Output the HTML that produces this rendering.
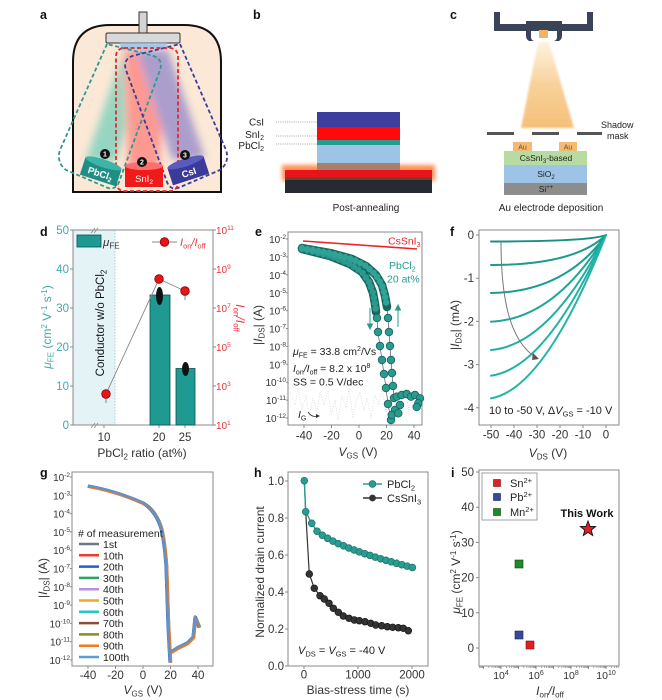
<!DOCTYPE html>
<html><head><meta charset="utf-8">
<style>
html,body{margin:0;padding:0;background:#fff;}
svg{display:block;font-family:"Liberation Sans",Arial,sans-serif;}
</style></head>
<body>
<svg width="662" height="700" viewBox="0 0 662 700" xmlns="http://www.w3.org/2000/svg">
<defs>
<filter id="b4" x="-50%" y="-50%" width="200%" height="200%"><feGaussianBlur stdDeviation="4"/></filter>
<filter id="b2" x="-50%" y="-50%" width="200%" height="200%"><feGaussianBlur stdDeviation="2"/></filter>
<filter id="b1" x="-50%" y="-50%" width="200%" height="200%"><feGaussianBlur stdDeviation="1"/></filter>
<linearGradient id="cone" x1="0" y1="0" x2="0" y2="1">
<stop offset="0" stop-color="#fff3e0"/><stop offset="0.5" stop-color="#f8d19a"/><stop offset="1" stop-color="#f4bf78"/>
</linearGradient>
<path id="gc" fill="none" d="M88,486 C105,489 125,495 143,503 C152,508 158,518 161,528 C164,540 165,552 166,565 L168,625 L170,662 M170.5,652 L177,648 L187,643 L193,637 L195,617 L197,622 L199,627"/>
</defs>

<!-- ============ PANEL LABELS ============ -->
<g font-weight="bold" font-size="12.5" fill="#111">
<text x="40" y="19">a</text><text x="253" y="19">b</text><text x="450" y="19">c</text>
<text x="40" y="236">d</text><text x="255" y="236">e</text><text x="450" y="236">f</text>
<text x="40" y="477">g</text><text x="254" y="477">h</text><text x="451" y="477">i</text>
</g>

<!-- ============ PANEL A ============ -->
<path d="M73,192 L73,62 Q73,25 110,25 L184,25 Q221,25 221,62 L221,192 Z" fill="#fbe8d6" stroke="#111" stroke-width="2"/>
<g filter="url(#b4)" opacity="0.55">
<polygon points="86,160 116,162 150,50 124,50" fill="#45c6b0"/>
<polygon points="128,168 160,168 164,50 124,50" fill="#ff5a5a"/>
<polygon points="172,160 205,158 168,50 136,50" fill="#6a64c4"/>
</g>
<rect x="139" y="12" width="8" height="22" fill="#d4d4d4" stroke="#333" stroke-width="1"/>
<rect x="106" y="33" width="74" height="10" rx="1.5" fill="#d9d9d9" stroke="#333" stroke-width="1"/>
<rect x="120" y="43" width="47" height="7" fill="#a6c6ea" filter="url(#b1)"/>
<g fill="none" stroke-width="1.8" stroke-dasharray="4 2.5">
<path d="M107,44 L60,150 Q56,162 66,170 L108,188 Q116,190 119,182 L160,70 Q164,58 150,55 Z" stroke="#2e9a8e"/>
<path d="M180,44 L226,150 Q230,162 220,170 L178,188 Q170,190 167,182 L126,70 Q122,58 136,55 Z" stroke="#3c3c9a"/>
<rect x="116" y="48" width="62" height="143" rx="8" stroke="#e8262a"/>
</g>
<g transform="translate(101,171) rotate(18)">
<rect x="-19" y="-8" width="38" height="18" fill="#1f8f86"/>
<ellipse cx="0" cy="-8" rx="19" ry="4" fill="#3cb4a7"/>
<text x="0" y="6" text-anchor="middle" font-size="9.5" font-weight="bold" fill="#fff">PbCl<tspan dy="2" font-size="6.5">2</tspan></text>
</g>
<g transform="translate(144,176)">
<rect x="-19" y="-10" width="38" height="21" fill="#f01a1a"/>
<ellipse cx="0" cy="-10" rx="19" ry="4" fill="#ff6e6e"/>
<text x="0" y="6" text-anchor="middle" font-size="9.5" fill="#fff">SnI<tspan dy="2" font-size="6.5">2</tspan></text>
</g>
<g transform="translate(188,170) rotate(-18)">
<rect x="-19" y="-8" width="38" height="18" fill="#3a3a98"/>
<ellipse cx="0" cy="-8" rx="19" ry="4" fill="#5a5abf"/>
<text x="0" y="6" text-anchor="middle" font-size="9.5" font-weight="bold" fill="#fff">CsI</text>
</g>
<g font-size="7" font-weight="bold" fill="#fff" text-anchor="middle">
<circle cx="105" cy="154" r="5" fill="#111"/><text x="105" y="156.5">1</text>
<circle cx="142" cy="162" r="5" fill="#111"/><text x="142" y="164.5">2</text>
<circle cx="185" cy="155" r="5" fill="#111"/><text x="185" y="157.5">3</text>
</g>

<!-- ============ PANEL B ============ -->
<rect x="282" y="165" width="153" height="16" fill="#ff7a35" filter="url(#b2)" opacity="0.85"/>
<rect x="285" y="170" width="147" height="7" fill="#e8141b"/>
<rect x="285" y="177" width="147" height="3" fill="#7a3b2b"/>
<rect x="285" y="180" width="147" height="13" fill="#262b33"/>
<rect x="317" y="112" width="83" height="15" fill="#3d3d9e"/>
<rect x="317" y="127" width="83" height="13" fill="#ff0a0a"/>
<rect x="317" y="140" width="83" height="5" fill="#2a9a8f"/>
<rect x="317" y="145" width="83" height="18" fill="#9dc3e6"/>
<rect x="317" y="163" width="83" height="7" fill="#a87f6a"/>
<g stroke="#888" stroke-width="0.8" stroke-dasharray="1 1.2">
<line x1="276" y1="122" x2="317" y2="122"/><line x1="276" y1="136" x2="317" y2="136"/><line x1="276" y1="144" x2="317" y2="144"/>
</g>
<g font-size="10" fill="#222" text-anchor="end">
<text x="264" y="125.5">CsI</text>
<text x="264" y="138">SnI<tspan dy="2" font-size="7">2</tspan></text>
<text x="264" y="149">PbCl<tspan dy="2" font-size="7">2</tspan></text>
</g>
<text x="366" y="211" font-size="10" text-anchor="middle" fill="#222">Post-annealing</text>

<!-- ============ PANEL C ============ -->
<g fill="#3b4358">
<rect x="494" y="12" width="6" height="19"/>
<rect x="587" y="12" width="6" height="19"/>
<rect x="494" y="24" width="99" height="7"/>
<rect x="526" y="21" width="36" height="6"/>
<path d="M526,27 h5 v10 q0,3 3,4 h-5 q-3,-2 -3,-5 z"/>
<path d="M562,27 h-5 v10 q0,3 -3,4 h5 q3,-2 3,-5 z"/>
</g>
<polygon points="538,42 549,42 574,128 521,128" fill="url(#cone)" filter="url(#b1)"/>
<rect x="539" y="30" width="9" height="8" fill="#f2b463"/>
<g fill="#555">
<rect x="487" y="132" width="27" height="3"/><rect x="532" y="132" width="27" height="3"/><rect x="577" y="132" width="25" height="3"/>
</g>
<text x="601" y="128" font-size="9" fill="#222">Shadow</text>
<text x="607" y="139" font-size="9" fill="#222">mask</text>
<rect x="513" y="142" width="19" height="9" fill="#f5b971"/>
<rect x="559" y="142" width="18" height="9" fill="#f5b971"/>
<rect x="504" y="151" width="83" height="14" fill="#b7dca2"/>
<rect x="504" y="165" width="83" height="18" fill="#9dc3e6"/>
<rect x="504" y="183" width="83" height="12" fill="#8d8d8d"/>
<g font-size="7" fill="#555" text-anchor="middle"><text x="522.5" y="149.5">Au</text><text x="568" y="149.5">Au</text></g>
<g font-size="8.5" fill="#222" text-anchor="middle">
<text x="546" y="161">CsSnI<tspan dy="2" font-size="6">3</tspan><tspan dy="-2">-based</tspan></text>
<text x="546" y="177">SiO<tspan dy="2" font-size="6">2</tspan></text>
<text x="546" y="192">Si<tspan dy="-3" font-size="6">++</tspan></text>
</g>
<text x="551" y="211" font-size="10" text-anchor="middle" fill="#222">Au electrode deposition</text>

<!-- ============ PANEL D ============ -->
<rect x="73" y="230" width="42" height="195" fill="#e3f3f6"/>
<line x1="115" y1="230" x2="115" y2="425" stroke="#9cc" stroke-width="0.8" stroke-dasharray="1.5 1.5"/>
<rect x="73" y="230" width="140" height="195" fill="none" stroke="#8a8a8a" stroke-width="1"/>
<g stroke="#888" stroke-width="0.8"><line x1="91" y1="233" x2="95" y2="228"/><line x1="94" y1="233" x2="98" y2="228"/><line x1="91" y1="428" x2="95" y2="423"/><line x1="94" y1="428" x2="98" y2="423"/></g>
<g stroke="#8a8a8a" stroke-width="1">
<path d="M73,425h-3M73,386h-3M73,347h-3M73,308h-3M73,269h-3M73,230h-3"/>
<path d="M213,425h3M213,386h3M213,347h3M213,308h3M213,269h3M213,230h3"/>
<path d="M104,425v3M159,425v3M185,425v3"/>
</g>
<g font-size="11.5" fill="#45a8a8" text-anchor="end">
<text x="69" y="429">0</text><text x="69" y="390">10</text><text x="69" y="351">20</text><text x="69" y="312">30</text><text x="69" y="273">40</text><text x="69" y="234">50</text>
</g>
<g font-size="10" fill="#e8343a">
<text x="216" y="429">10<tspan dy="-4" font-size="6.5">1</tspan></text>
<text x="216" y="390">10<tspan dy="-4" font-size="6.5">3</tspan></text>
<text x="216" y="351">10<tspan dy="-4" font-size="6.5">5</tspan></text>
<text x="216" y="312">10<tspan dy="-4" font-size="6.5">7</tspan></text>
<text x="216" y="273">10<tspan dy="-4" font-size="6.5">9</tspan></text>
<text x="216" y="234">10<tspan dy="-4" font-size="6.5">11</tspan></text>
</g>
<g font-size="11.5" fill="#333" text-anchor="middle"><text x="104" y="441">10</text><text x="159" y="441">20</text><text x="185" y="441">25</text></g>
<text x="142" y="457" font-size="12" fill="#333" text-anchor="middle">PbCl<tspan dy="2.5" font-size="8">2</tspan><tspan dy="-2.5"> ratio (at%)</tspan></text>
<rect x="150" y="295" width="20" height="130" fill="#1f9a92" stroke="#0d4f4b" stroke-width="0.8"/>
<rect x="176" y="368.5" width="19" height="56.5" fill="#1f9a92" stroke="#0d4f4b" stroke-width="0.8"/>
<ellipse cx="159.5" cy="296" rx="3.5" ry="9" fill="#111"/>
<ellipse cx="185.5" cy="369" rx="3.5" ry="7" fill="#111"/>
<polyline points="106,394 159,279 185,291" fill="none" stroke="#888" stroke-width="0.9"/>
<g stroke="#888" stroke-width="1"><line x1="106" y1="394" x2="106" y2="403"/><line x1="185" y1="291" x2="185" y2="300"/></g>
<g fill="#e8141b" stroke="#8b0000" stroke-width="0.8"><circle cx="106" cy="394" r="4.3"/><circle cx="159" cy="279" r="4.3"/><circle cx="185" cy="291" r="4.3"/></g>
<rect x="77" y="235" width="24" height="12" fill="#1f9a92" stroke="#0d4f4b" stroke-width="0.8"/>
<text x="103" y="246" font-size="11.5" fill="#333"><tspan font-style="italic">μ</tspan><tspan dy="2.5" font-size="8">FE</tspan></text>
<line x1="152" y1="242" x2="177" y2="242" stroke="#888" stroke-width="0.9"/>
<circle cx="164.5" cy="242" r="4.3" fill="#e8141b" stroke="#8b0000" stroke-width="0.8"/>
<text x="180" y="246" font-size="11" fill="#e8343a" font-style="italic">I<tspan dy="2.5" font-size="7.5" font-style="normal">on</tspan><tspan dy="-2.5">/I</tspan><tspan dy="2.5" font-size="7.5" font-style="normal">off</tspan></text>
<text transform="translate(104,323) rotate(-90)" font-size="11.5" fill="#111" text-anchor="middle">Conductor w/o PbCl<tspan dy="2.5" font-size="8">2</tspan></text>
<text transform="translate(51,327) rotate(-90)" font-size="12" fill="#45a8a8" text-anchor="middle"><tspan font-style="italic">μ</tspan><tspan dy="2.5" font-size="8">FE</tspan><tspan dy="-2.5"> (cm</tspan><tspan dy="-4" font-size="8">2</tspan><tspan dy="4"> V</tspan><tspan dy="-4" font-size="8">-1</tspan><tspan dy="4"> s</tspan><tspan dy="-4" font-size="8">-1</tspan><tspan dy="4">)</tspan></text>
<text transform="translate(236,318) rotate(90)" font-size="12" fill="#e8343a" text-anchor="middle" font-style="italic">I<tspan dy="2.5" font-size="8" font-style="normal">on</tspan><tspan dy="-2.5">/I</tspan><tspan dy="2.5" font-size="8" font-style="normal">off</tspan></text>

<!-- ============ PANEL E ============ -->
<rect x="288" y="232" width="134" height="193" fill="none" stroke="#8a8a8a" stroke-width="1"/>
<g stroke="#8a8a8a" stroke-width="1">
<path d="M288,239h-2M288,256.9h-2M288,274.8h-2M288,292.7h-2M288,310.6h-2M288,328.5h-2M288,346.4h-2M288,364.3h-2M288,382.2h-2M288,400.1h-2M288,418h-2"/>
<path d="M304,425v3M331.5,425v3M359,425v3M386.5,425v3M414,425v3"/>
</g>
<g font-size="10" fill="#333" text-anchor="end">
<text x="286" y="243">10<tspan dy="-4" font-size="6.5">-2</tspan></text>
<text x="286" y="261">10<tspan dy="-4" font-size="6.5">-3</tspan></text>
<text x="286" y="279">10<tspan dy="-4" font-size="6.5">-4</tspan></text>
<text x="286" y="297">10<tspan dy="-4" font-size="6.5">-5</tspan></text>
<text x="286" y="314.5">10<tspan dy="-4" font-size="6.5">-6</tspan></text>
<text x="286" y="332.5">10<tspan dy="-4" font-size="6.5">-7</tspan></text>
<text x="286" y="350.5">10<tspan dy="-4" font-size="6.5">-8</tspan></text>
<text x="286" y="368.5">10<tspan dy="-4" font-size="6.5">-9</tspan></text>
<text x="286" y="386">10<tspan dy="-4" font-size="6.5">-10</tspan></text>
<text x="286" y="404">10<tspan dy="-4" font-size="6.5">-11</tspan></text>
<text x="286" y="422">10<tspan dy="-4" font-size="6.5">-12</tspan></text>
</g>
<g font-size="11.5" fill="#333" text-anchor="middle"><text x="304" y="439.5">-40</text><text x="331.5" y="439.5">-20</text><text x="359" y="439.5">0</text><text x="386.5" y="439.5">20</text><text x="414" y="439.5">40</text></g>
<text x="358" y="456" font-size="12" fill="#333" text-anchor="middle"><tspan font-style="italic">V</tspan><tspan dy="2.5" font-size="8">GS</tspan><tspan dy="-2.5"> (V)</tspan></text>
<text transform="translate(262,325) rotate(-90)" font-size="12" fill="#333" text-anchor="middle">|<tspan font-style="italic">I</tspan><tspan dy="2.5" font-size="8">DS</tspan><tspan dy="-2.5">| (A)</tspan></text>
<polyline points="290,392 295,405 298,388 302,410 306,395 309,418 313,398 317,412 320,392 324,405 328,390 331,415 335,400 338,420 342,395 346,408 349,388 353,418 356,402 360,392 364,410 367,398 371,418 375,395 379,405 382,388 386,412 390,398 393,420 397,392 401,405 405,390 409,410 413,395 418,402" fill="none" stroke="#d4d4d4" stroke-width="0.7" stroke-dasharray="1 1.5"/>
<line x1="303" y1="241" x2="417" y2="249" stroke="#e8262a" stroke-width="1.6"/>
<g fill="none" stroke-linecap="round" stroke-linejoin="round">
<polyline points="302,249 330,256 350,264 362,272 369,282 373,293 375,304 376,312" stroke="#19665f" stroke-width="8.5"/>
<polyline points="302,248 330,253 352,259 366,266 376,275 382,285 385,296 387,307" stroke="#19665f" stroke-width="8.5"/>
<polyline points="302,249 330,256 350,264 362,272 369,282 373,293 375,304 376,312" stroke="#2a9a8f" stroke-width="6.5" stroke-dasharray="0 5.5"/>
<polyline points="302,248 330,253 352,259 366,266 376,275 382,285 385,296 387,307" stroke="#2fa396" stroke-width="6.5" stroke-dasharray="0 5.5"/>
<polyline points="376,312 377,318 378,332 380,346 382,360 384,374 386,388 388,404 391,420" stroke="#556" stroke-width="0.7"/>
<polyline points="387,307 388,318 389,332 390,346 391,360 392,373 393,386 394,398 396.7,396.7 401.7,395 406.7,394 411,396.7 415,395 420,398.3" stroke="#556" stroke-width="0.7"/>
</g>
<g fill="#2a9a8f" stroke="#19665f" stroke-width="0.8">
<circle cx="377" cy="318" r="3.8"/><circle cx="378" cy="332" r="3.8"/><circle cx="380" cy="346" r="3.8"/><circle cx="382" cy="360" r="3.8"/><circle cx="384" cy="374" r="3.8"/><circle cx="386" cy="388" r="3.8"/><circle cx="388" cy="404" r="3.8"/><circle cx="391" cy="420" r="3.8"/>
<circle cx="388" cy="318" r="3.8"/><circle cx="389" cy="332" r="3.8"/><circle cx="390" cy="346" r="3.8"/><circle cx="391" cy="360" r="3.8"/><circle cx="392" cy="373" r="3.8"/><circle cx="393" cy="386" r="3.8"/><circle cx="394" cy="398" r="3.8"/>
<circle cx="396.7" cy="396.7" r="3.8"/><circle cx="401.7" cy="395" r="3.8"/><circle cx="406.7" cy="394" r="3.8"/><circle cx="411" cy="396.7" r="3.8"/><circle cx="415" cy="395" r="3.8"/><circle cx="420" cy="398.3" r="3.8"/><circle cx="418.3" cy="403.3" r="3.8"/><circle cx="395" cy="410" r="3.8"/><circle cx="400" cy="405" r="3.8"/><circle cx="391.7" cy="415" r="3.8"/><circle cx="398.3" cy="413.3" r="3.8"/><circle cx="416.7" cy="407" r="3.8"/>
</g>
<g stroke="#2a9a8f" stroke-width="1" fill="#2a9a8f">
<line x1="370" y1="308" x2="370" y2="326"/><polygon points="367.5,324 372.5,324 370,329"/>
<line x1="398" y1="327" x2="398" y2="308"/><polygon points="395.5,310 400.5,310 398,305"/>
</g>
<text x="388" y="244.5" font-size="10.5" fill="#e8262a">CsSnI<tspan dy="2.5" font-size="7">3</tspan></text>
<text x="389" y="269" font-size="10.5" fill="#2a9a8f">PbCl<tspan dy="2.5" font-size="7">2</tspan></text>
<text x="387" y="282.5" font-size="10.5" fill="#2a9a8f">20 at%</text>
<g font-size="10.5" fill="#222">
<text x="293" y="355"><tspan font-style="italic">μ</tspan><tspan dy="2.5" font-size="7">FE</tspan><tspan dy="-2.5"> = 33.8 cm</tspan><tspan dy="-4" font-size="7">2</tspan><tspan dy="4">/Vs</tspan></text>
<text x="293" y="372"><tspan font-style="italic">I</tspan><tspan dy="2.5" font-size="7">on</tspan><tspan dy="-2.5" font-style="italic">/I</tspan><tspan dy="2.5" font-size="7">off</tspan><tspan dy="-2.5"> = 8.2 x 10</tspan><tspan dy="-4" font-size="7">8</tspan></text>
<text x="293" y="385.5">SS = 0.5 V/dec</text>
<text x="298" y="418"><tspan font-style="italic">I</tspan><tspan dy="2.5" font-size="7">G</tspan></text>
</g>
<path d="M308,412 Q312,418 318,416" fill="none" stroke="#333" stroke-width="0.8"/>
<polygon points="316,414 320,416 316,418" fill="#333"/>

<!-- ============ PANEL F ============ -->
<rect x="479" y="230" width="140" height="195" fill="none" stroke="#8a8a8a" stroke-width="1"/>
<g stroke="#8a8a8a" stroke-width="1">
<path d="M479,235h-3M479,278.2h-3M479,321.4h-3M479,364.6h-3M479,407.8h-3"/>
<path d="M491,425v3M514,425v3M537,425v3M560,425v3M583,425v3M606,425v3"/>
</g>
<g font-size="11.5" fill="#333" text-anchor="end">
<text x="474" y="239">0</text><text x="474" y="282">-1</text><text x="474" y="325.5">-2</text><text x="474" y="368.5">-3</text><text x="474" y="412">-4</text>
</g>
<g font-size="11.5" fill="#333" text-anchor="middle"><text x="491" y="438.5">-50</text><text x="514" y="438.5">-40</text><text x="537" y="438.5">-30</text><text x="560" y="438.5">-20</text><text x="583" y="438.5">-10</text><text x="606" y="438.5">0</text></g>
<text x="548" y="457" font-size="12" fill="#333" text-anchor="middle"><tspan font-style="italic">V</tspan><tspan dy="2.5" font-size="8">DS</tspan><tspan dy="-2.5"> (V)</tspan></text>
<text transform="translate(459,325) rotate(-90)" font-size="12" fill="#333" text-anchor="middle">|<tspan font-style="italic">I</tspan><tspan dy="2.5" font-size="8">DS</tspan><tspan dy="-2.5">| (mA)</tspan></text>
<g fill="none" stroke-width="2" stroke-linecap="round">
<path d="M491,241.5 Q590,241.5 606,235" stroke="#1b8f86"/>
<path d="M491,265 Q575,265 606,235" stroke="#1b9a8f"/>
<path d="M491,293 Q565,292 606,235" stroke="#1a9c90"/>
<path d="M491,321.7 Q555,319 606,235" stroke="#1ea599"/>
<path d="M491,350 Q550,345 606,235" stroke="#1fae9f"/>
<path d="M491,375.7 Q547,368 606,235" stroke="#20b3a4"/>
<path d="M491,398.3 Q545,389 606,235" stroke="#22b5a6"/>
</g>
<path d="M501,241 C501,300 510,340 535,357" fill="none" stroke="#777" stroke-width="1"/>
<polygon points="533,353 539,359 532,360" fill="#555"/>
<text x="489" y="414" font-size="11" fill="#222">10 to -50 V, Δ<tspan font-style="italic">V</tspan><tspan dy="2.5" font-size="7.5">GS</tspan><tspan dy="-2.5"> = -10 V</tspan></text>

<!-- ============ PANEL G ============ -->
<rect x="72" y="472" width="141" height="194" fill="none" stroke="#8a8a8a" stroke-width="1"/>
<g stroke="#8a8a8a" stroke-width="1">
<path d="M72,477h-2M72,495.3h-2M72,513.6h-2M72,531.9h-2M72,550.2h-2M72,568.5h-2M72,586.8h-2M72,605.1h-2M72,623.4h-2M72,641.7h-2M72,660h-2"/>
<path d="M88,666v3M115.5,666v3M143,666v3M170.5,666v3M198,666v3"/>
</g>
<g font-size="10" fill="#333" text-anchor="end">
<text x="70" y="481">10<tspan dy="-4" font-size="6.5">-2</tspan></text>
<text x="70" y="499.3">10<tspan dy="-4" font-size="6.5">-3</tspan></text>
<text x="70" y="517.6">10<tspan dy="-4" font-size="6.5">-4</tspan></text>
<text x="70" y="535.9">10<tspan dy="-4" font-size="6.5">-5</tspan></text>
<text x="70" y="554.2">10<tspan dy="-4" font-size="6.5">-6</tspan></text>
<text x="70" y="572.5">10<tspan dy="-4" font-size="6.5">-7</tspan></text>
<text x="70" y="590.8">10<tspan dy="-4" font-size="6.5">-8</tspan></text>
<text x="70" y="609.1">10<tspan dy="-4" font-size="6.5">-9</tspan></text>
<text x="70" y="627.4">10<tspan dy="-4" font-size="6.5">-10</tspan></text>
<text x="70" y="645.7">10<tspan dy="-4" font-size="6.5">-11</tspan></text>
<text x="70" y="664">10<tspan dy="-4" font-size="6.5">-12</tspan></text>
</g>
<g font-size="11.5" fill="#333" text-anchor="middle"><text x="88" y="679">-40</text><text x="115.5" y="679">-20</text><text x="143" y="679">0</text><text x="170.5" y="679">20</text><text x="198" y="679">40</text></g>
<text x="143" y="694" font-size="12" fill="#333" text-anchor="middle"><tspan font-style="italic">V</tspan><tspan dy="2.5" font-size="8">GS</tspan><tspan dy="-2.5"> (V)</tspan></text>
<text transform="translate(47,578) rotate(-90)" font-size="12" fill="#333" text-anchor="middle">|<tspan font-style="italic">I</tspan><tspan dy="2.5" font-size="8">DS</tspan><tspan dy="-2.5">| (A)</tspan></text>
<g stroke-width="2.6" stroke-linejoin="round">
<use href="#gc" stroke="#707784" transform="translate(0.4,0)"/>
<use href="#gc" stroke="#ef3b2c" transform="translate(0.6,0.3)"/>
<use href="#gc" stroke="#1f5fd0" transform="translate(-0.3,0.5)"/>
<use href="#gc" stroke="#2ca25f" transform="translate(1,0.2)"/>
<use href="#gc" stroke="#b48fe6" transform="translate(0.2,-0.2)"/>
<use href="#gc" stroke="#f5a623" transform="translate(0.8,0.6)"/>
<use href="#gc" stroke="#26c6c6" transform="translate(0.1,0.1)"/>
<use href="#gc" stroke="#8b4b3b" transform="translate(0.5,-0.1)"/>
<use href="#gc" stroke="#8c8c1e" transform="translate(0.3,0.4)"/>
<use href="#gc" stroke="#f47a1f" transform="translate(0.9,0.9)"/>
<use href="#gc" stroke="#6a8fc0" transform="translate(0,-0.4)"/>
</g>
<text x="78" y="537" font-size="10.5" fill="#222"># of measurement</text>
<g stroke-width="2.5">
<line x1="79" y1="544" x2="99" y2="544" stroke="#707784"/>
<line x1="79" y1="555.3" x2="99" y2="555.3" stroke="#ef3b2c"/>
<line x1="79" y1="566.6" x2="99" y2="566.6" stroke="#1f5fd0"/>
<line x1="79" y1="577.9" x2="99" y2="577.9" stroke="#2ca25f"/>
<line x1="79" y1="589.2" x2="99" y2="589.2" stroke="#b48fe6"/>
<line x1="79" y1="600.5" x2="99" y2="600.5" stroke="#f5a623"/>
<line x1="79" y1="611.8" x2="99" y2="611.8" stroke="#26c6c6"/>
<line x1="79" y1="623.1" x2="99" y2="623.1" stroke="#8b4b3b"/>
<line x1="79" y1="634.4" x2="99" y2="634.4" stroke="#8c8c1e"/>
<line x1="79" y1="645.7" x2="99" y2="645.7" stroke="#f47a1f"/>
<line x1="79" y1="657" x2="99" y2="657" stroke="#5b9bd5"/>
</g>
<g font-size="10.5" fill="#222">
<text x="103" y="548">1st</text><text x="103" y="559.3">10th</text><text x="103" y="570.6">20th</text><text x="103" y="581.9">30th</text><text x="103" y="593.2">40th</text><text x="103" y="604.5">50th</text><text x="103" y="615.8">60th</text><text x="103" y="627.1">70th</text><text x="103" y="638.4">80th</text><text x="103" y="649.7">90th</text><text x="103" y="661">100th</text>
</g>

<!-- ============ PANEL H ============ -->
<rect x="288" y="472" width="140" height="194" fill="none" stroke="#8a8a8a" stroke-width="1"/>
<g stroke="#8a8a8a" stroke-width="1">
<path d="M288,481h-3M288,518h-3M288,555h-3M288,592h-3M288,629h-3M288,666h-3"/>
<path d="M304,666v3M358,666v3M412,666v3"/>
</g>
<g font-size="11.5" fill="#333" text-anchor="end">
<text x="284" y="485">1.0</text><text x="284" y="522">0.8</text><text x="284" y="559">0.6</text><text x="284" y="596">0.4</text><text x="284" y="633">0.2</text><text x="284" y="670">0.0</text>
</g>
<g font-size="11.5" fill="#333" text-anchor="middle"><text x="304" y="678.5">0</text><text x="358" y="678.5">1000</text><text x="412" y="678.5">2000</text></g>
<text x="358" y="694" font-size="12" fill="#333" text-anchor="middle">Bias-stress time (s)</text>
<text transform="translate(264,572) rotate(-90)" font-size="12" fill="#333" text-anchor="middle">Normalized drain current</text>
<polyline fill="none" stroke="#333" stroke-width="1.2" points="304.3,480.7 305.7,511.7 309.3,574 314.3,588.3 320,595.7 324.3,599 329,603.3 333.3,608.3 338.3,612.3 343.3,616 349,618.3 354.3,620 359.3,620.7 365,621.7 370.7,623.3 375.7,625 381.7,625.7 387.3,626.7 392.7,627.3 398.3,627.7 403.3,628.3 408.3,630.7"/>
<g fill="#333" stroke="#111" stroke-width="0.6">
<circle cx="309.3" cy="574" r="3.4"/><circle cx="314.3" cy="588.3" r="3.4"/><circle cx="320" cy="595.7" r="3.4"/><circle cx="324.3" cy="599" r="3.4"/><circle cx="329" cy="603.3" r="3.4"/><circle cx="333.3" cy="608.3" r="3.4"/><circle cx="338.3" cy="612.3" r="3.4"/><circle cx="343.3" cy="616" r="3.4"/><circle cx="349" cy="618.3" r="3.4"/><circle cx="354.3" cy="620" r="3.4"/><circle cx="359.3" cy="620.7" r="3.4"/><circle cx="365" cy="621.7" r="3.4"/><circle cx="370.7" cy="623.3" r="3.4"/><circle cx="375.7" cy="625" r="3.4"/><circle cx="381.7" cy="625.7" r="3.4"/><circle cx="387.3" cy="626.7" r="3.4"/><circle cx="392.7" cy="627.3" r="3.4"/><circle cx="398.3" cy="627.7" r="3.4"/><circle cx="403.3" cy="628.3" r="3.4"/><circle cx="408.3" cy="630.7" r="3.4"/>
</g>
<polyline fill="none" stroke="#2a9d92" stroke-width="1.4" points="304.3,480.7 305.7,511.7 311.7,523.3 317,531.2 322.3,535.2 327.6,538.3 332.9,541.1 338.2,543.6 343.5,545.8 348.8,548 354.1,550 359.4,551.9 364.7,553.7 370,555.4 375.3,557.1 380.6,558.7 385.9,560.3 391.2,561.8 396.5,563.3 401.8,564.7 407.1,566.1 412.4,567.5"/>
<g fill="#2a9d92" stroke="#1a6f68" stroke-width="0.7">
<circle cx="304.3" cy="480.7" r="3.4"/><circle cx="305.7" cy="511.7" r="3.4"/>
<circle cx="311.7" cy="523.3" r="3.4"/><circle cx="317" cy="531.2" r="3.4"/><circle cx="322.3" cy="535.2" r="3.4"/><circle cx="327.6" cy="538.3" r="3.4"/><circle cx="332.9" cy="541.1" r="3.4"/><circle cx="338.2" cy="543.6" r="3.4"/><circle cx="343.5" cy="545.8" r="3.4"/><circle cx="348.8" cy="548" r="3.4"/><circle cx="354.1" cy="550" r="3.4"/><circle cx="359.4" cy="551.9" r="3.4"/><circle cx="364.7" cy="553.7" r="3.4"/><circle cx="370" cy="555.4" r="3.4"/><circle cx="375.3" cy="557.1" r="3.4"/><circle cx="380.6" cy="558.7" r="3.4"/><circle cx="385.9" cy="560.3" r="3.4"/><circle cx="391.2" cy="561.8" r="3.4"/><circle cx="396.5" cy="563.3" r="3.4"/><circle cx="401.8" cy="564.7" r="3.4"/><circle cx="407.1" cy="566.1" r="3.4"/><circle cx="412.4" cy="567.5" r="3.4"/>
</g>
<line x1="363" y1="484" x2="382" y2="484" stroke="#2a9d92" stroke-width="1.4"/>
<circle cx="372.5" cy="484" r="3.4" fill="#2a9d92" stroke="#1a6f68" stroke-width="0.7"/>
<line x1="363" y1="498" x2="382" y2="498" stroke="#333" stroke-width="1.4"/>
<circle cx="372.5" cy="498" r="3.4" fill="#333"/>
<text x="387" y="488" font-size="11" fill="#222">PbCl<tspan dy="2.5" font-size="7.5">2</tspan></text>
<text x="387" y="502" font-size="11" fill="#222">CsSnI<tspan dy="2.5" font-size="7.5">3</tspan></text>
<text x="298" y="654" font-size="11" fill="#222"><tspan font-style="italic">V</tspan><tspan dy="2.5" font-size="7.5">DS</tspan><tspan dy="-2.5"> = </tspan><tspan font-style="italic">V</tspan><tspan dy="2.5" font-size="7.5">GS</tspan><tspan dy="-2.5"> = -40 V</tspan></text>

<!-- ============ PANEL I ============ -->
<rect x="479" y="470" width="140" height="196" fill="none" stroke="#8a8a8a" stroke-width="1"/>
<g stroke="#8a8a8a" stroke-width="1">
<path d="M479,472h-3M479,507.2h-3M479,542.4h-3M479,577.6h-3M479,612.8h-3M479,648h-3"/>
<path d="M483.5,666v3M501,666v3M518.5,666v3M536,666v3M553.5,666v3M571,666v3M588.5,666v3M606,666v3"/>
</g>
<path stroke="#8a8a8a" stroke-width="0.7" d="M479.6,666v2M480.8,666v2M481.8,666v2M482.7,666v2M488.8,666v2M491.9,666v2M494,666v2M495.7,666v2M497.1,666v2M498.3,666v2M499.3,666v2M500.2,666v2M506.3,666v2M509.4,666v2M511.5,666v2M513.2,666v2M514.6,666v2M515.8,666v2M516.8,666v2M517.7,666v2M523.8,666v2M526.9,666v2M529,666v2M530.7,666v2M532.1,666v2M533.3,666v2M534.3,666v2M535.2,666v2M541.3,666v2M544.4,666v2M546.5,666v2M548.2,666v2M549.6,666v2M550.8,666v2M551.8,666v2M552.7,666v2M558.8,666v2M561.9,666v2M564,666v2M565.7,666v2M567.1,666v2M568.3,666v2M569.3,666v2M570.2,666v2M576.3,666v2M579.4,666v2M581.5,666v2M583.2,666v2M584.6,666v2M585.8,666v2M586.8,666v2M587.7,666v2M593.8,666v2M596.9,666v2M599,666v2M600.7,666v2M602.1,666v2M603.3,666v2M604.3,666v2M605.2,666v2M611.3,666v2M614.4,666v2M616.5,666v2M618.2,666v2"/>
<g font-size="11.5" fill="#333" text-anchor="end">
<text x="474" y="476">50</text><text x="474" y="511">40</text><text x="474" y="546.5">30</text><text x="474" y="581.5">20</text><text x="474" y="617">10</text><text x="474" y="652">0</text>
</g>
<g font-size="10.5" fill="#333" text-anchor="middle">
<text x="501" y="679">10<tspan dy="-4" font-size="7">4</tspan></text>
<text x="536" y="679">10<tspan dy="-4" font-size="7">6</tspan></text>
<text x="571" y="679">10<tspan dy="-4" font-size="7">8</tspan></text>
<text x="606" y="679">10<tspan dy="-4" font-size="7">10</tspan></text>
</g>
<text x="550" y="695" font-size="12" fill="#333" text-anchor="middle"><tspan font-style="italic">I</tspan><tspan dy="2.5" font-size="8">on</tspan><tspan dy="-2.5" font-style="italic">/I</tspan><tspan dy="2.5" font-size="8">off</tspan></text>
<text transform="translate(460,572) rotate(-90)" font-size="12" fill="#333" text-anchor="middle"><tspan font-style="italic">μ</tspan><tspan dy="2.5" font-size="8">FE</tspan><tspan dy="-2.5"> (cm</tspan><tspan dy="-4" font-size="8">2</tspan><tspan dy="4"> V</tspan><tspan dy="-4" font-size="8">-1</tspan><tspan dy="4"> s</tspan><tspan dy="-4" font-size="8">-1</tspan><tspan dy="4">)</tspan></text>
<rect x="482" y="473" width="55" height="47" fill="#fff" stroke="#8a8a8a" stroke-width="0.8"/>
<rect x="493.5" y="479.5" width="7" height="7" fill="#e02020" stroke="#7a1010" stroke-width="0.6"/>
<rect x="493.5" y="493.5" width="7" height="7" fill="#3a4a9a" stroke="#1a2050" stroke-width="0.6"/>
<rect x="493.5" y="508.5" width="7" height="7" fill="#1e8a2a" stroke="#0a4010" stroke-width="0.6"/>
<g font-size="11" fill="#222">
<text x="510" y="487">Sn<tspan dy="-4" font-size="7.5">2+</tspan></text>
<text x="510" y="501">Pb<tspan dy="-4" font-size="7.5">2+</tspan></text>
<text x="510" y="516">Mn<tspan dy="-4" font-size="7.5">2+</tspan></text>
</g>
<rect x="515" y="560" width="8" height="8" fill="#1e8a2a" stroke="#0a4010" stroke-width="0.6"/>
<rect x="515" y="631" width="8" height="8" fill="#3a4a9a" stroke="#1a2050" stroke-width="0.6"/>
<rect x="526" y="641" width="8" height="8" fill="#e02020" stroke="#7a1010" stroke-width="0.6"/>
<polygon points="588,521 590,526.3 595.6,526.5 591.2,530.1 592.7,535.5 588,532.4 583.3,535.5 584.8,530.1 580.4,526.5 586,526.3" fill="#e02020" stroke="#111" stroke-width="0.9"/>
<text x="587" y="517" font-size="11" font-weight="bold" fill="#111" text-anchor="middle">This Work</text>
</svg>
</body></html>
